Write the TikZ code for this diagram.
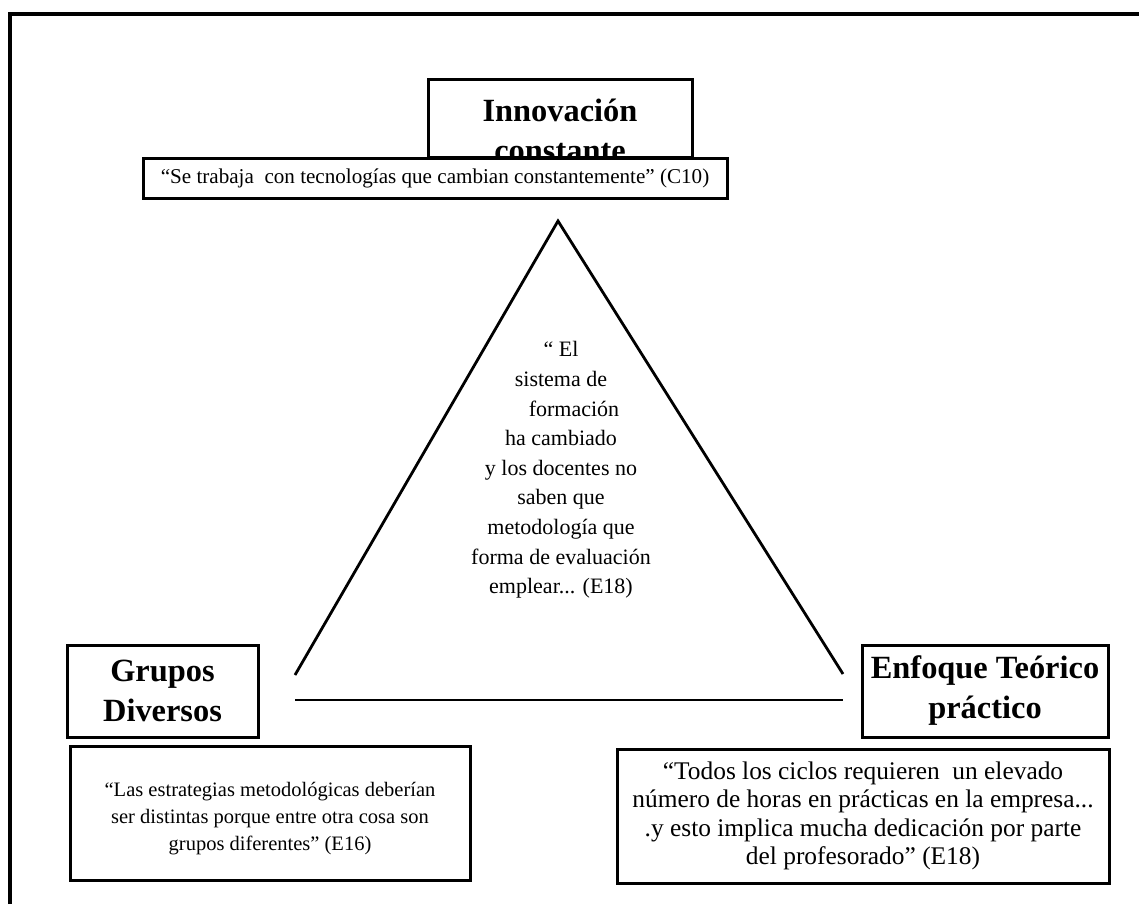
\documentclass[tikz,border=0pt]{standalone}
\usepackage{fontspec}
\setmainfont{Liberation Serif}
\begin{document}
\begin{tikzpicture}[x=1pt,y=-1pt,
  rule/.style={line width=3.2pt},
  boxed/.style={draw, line width=3pt, fill=white, inner sep=0pt},
  headtext/.style={font=\fontsize{32.4}{40}\selectfont\bfseries, align=center, inner sep=0pt},
  quotetext/.style={font=\fontsize{21.1}{28.4}\selectfont, align=center, inner sep=0pt},
  side/.style={line width=2.8pt}
]
\useasboundingbox (0,0) rectangle (1139,904);

% page frame, open to the right and bottom
\draw[rule] (10,904) -- (10,14) -- (1139,14);

% top vertex: heading box and its quotation
\node[boxed, minimum width=264, minimum height=78] (innov) at (560,119) {};
\node[headtext] (innovtxt) at (560,130) {Innovación\\constante};
\node[boxed, quotetext, minimum width=584, minimum height=39] (q1) at (435,178.5)
  {“Se trabaja\ \ con tecnologías que cambian constantemente” (C10)};

% triangle
\coordinate (apex) at (558,221);
\coordinate (bl) at (295,675);
\coordinate (br) at (843,674);
\coordinate (basel) at (295,700);
\coordinate (baser) at (843,700);
\draw[side] (bl) -- (apex) -- (br);
\draw[side] (basel) -- (baser);

\node[quotetext, font=\fontsize{22}{29.6}\selectfont] (centre) at (561,470)
  {“ El\\sistema de\\\hspace*{26pt}formación\\ha cambiado\\y los docentes no\\saben que\\metodología que\\forma de evaluación\\emplear... (E18)};

% bottom-left vertex
\node[boxed, headtext, minimum width=191, minimum height=92] (grupos) at (162.5,691)
  {Grupos\\Diversos};
\node[boxed, minimum width=400, minimum height=134] (q2) at (270,813) {};
\node[quotetext, font=\fontsize{20.5}{27}\selectfont] (q2txt) at (270,819)
  {“Las estrategias metodológicas deberían\\ser distintas porque entre otra cosa son\\grupos diferentes” (E16)};

% bottom-right vertex
\node[boxed, headtext, minimum width=246, minimum height=92] (enfoque) at (985,691)
  {Enfoque Teórico\\práctico};
\node[boxed, quotetext, font=\fontsize{25.4}{28.4}\selectfont, minimum width=492, minimum height=134] (q3) at (863,816)
  {“Todos los ciclos requieren\ \ un elevado\\número de horas en prácticas en la empresa...\\.y esto implica mucha dedicación por parte\\del profesorado” (E18)};
\end{tikzpicture}
\end{document}
